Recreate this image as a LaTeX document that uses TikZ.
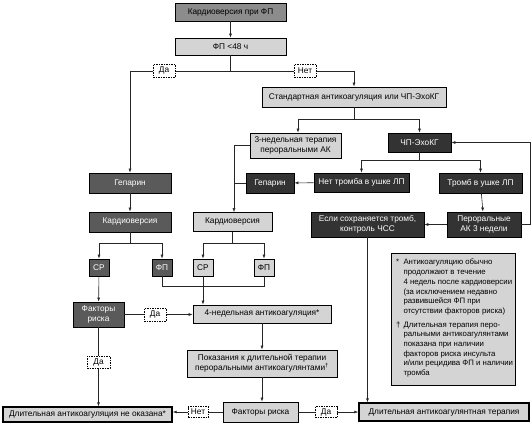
\documentclass[tikz,border=0pt]{standalone}
\usepackage{fontspec}
\setmainfont{Liberation Sans}
\usetikzlibrary{arrows.meta}
\definecolor{midg}{HTML}{8C8C8C}
\definecolor{lightg}{HTML}{D4D4D4}
\definecolor{darkg}{HTML}{5A5A5A}
\definecolor{darkerg}{HTML}{333333}
\tikzset{
 box/.style={draw=black, line width=0.8pt, inner sep=1pt, align=center, font=\fontsize{8.3}{9.6}\selectfont},
 lightbox/.style={box, fill=lightg, text=black},
 midbox/.style={box, fill=midg, text=black},
 darkbox/.style={box, fill=darkg, text=white},
 blackbox/.style={box, fill=darkerg, text=white},
 finalbox/.style={lightbox, line width=1.4pt},
 lbl/.style={draw=black, dash pattern=on 1.5pt off 1pt, fill=white, line width=0.6pt, inner sep=1pt, font=\fontsize{8.3}{9}\selectfont},
 conn/.style={line width=0.6pt, draw=black!85},
 arr/.style={conn, -{Latex[length=4pt,width=3pt]}},
 sz/.style n args={2}{minimum width=#1pt, minimum height=#2pt},
}
\begin{document}
\begin{tikzpicture}[x=1pt,y=-1pt]
\useasboundingbox (0,0) rectangle (531,424);
% boxes
\node[midbox, sz={111}{18}] (n1) at (230.5,12) {Кардиоверсия при ФП};
\node[lightbox, sz={111}{17}] (n2) at (230.5,46.5) {ФП <48 ч};
\node[lightbox, sz={184}{20}] (n3) at (354,97) {Стандартная антикоагуляция или ЧП-ЭхоКГ};
\node[lightbox, sz={91}{25}] (n4) at (295.5,145.5) {3-недельная терапия\\пероральными АК};
\node[blackbox, sz={63}{19}] (n5) at (419.5,142.5) {ЧП-ЭхоКГ};
\node[darkbox, sz={82}{20}] (hep1) at (130,183) {Гепарин};
\node[blackbox, sz={48}{20}] (hep2) at (270,183) {Гепарин};
\node[blackbox, sz={95}{19}] (net) at (361.5,182.5) {Нет тромба в ушке ЛП};
\node[blackbox, sz={83}{20}] (tromb) at (480.5,183) {Тромб в ушке ЛП};
\node[darkbox, sz={82}{20}] (kv1) at (130,222) {Кардиоверсия};
\node[lightbox, sz={79}{19}] (kv2) at (232.5,222) {Кардиоверсия};
\node[blackbox, sz={113}{25}] (esli) at (367.5,224.5) {Если сохраняется тромб,\\контроль ЧСС};
\node[blackbox, sz={74}{25}] (peroral) at (484,224.5) {Пероральные\\АК 3 недели};
\node[darkbox, sz={20}{17}] (sr1) at (99,267.5) {СР};
\node[darkbox, sz={20}{17}] (fp1) at (162,267.5) {ФП};
\node[lightbox, sz={20}{17}] (sr2) at (203,267.5) {СР};
\node[lightbox, sz={20}{17}] (fp2) at (264,267.5) {ФП};
\node[darkbox, sz={51}{25}] (fr1) at (98.5,314.5) {Факторы\\риска};
\node[lightbox, sz={138}{18}] (w4) at (262,314) {4-недельная антикоагуляция*};
\node[lightbox, sz={150}{27}] (pok) at (262,363.5) {Показания к длительной терапии\\пероральными антикоагулянтами\textsuperscript{†}};
\node[finalbox, sz={169}{15}] (dno) at (87.5,414.5) {Длительная антикоагуляция не оказана*};
\node[lightbox, sz={75}{20}] (fr2) at (260.5,412) {Факторы риска};
\node[finalbox, sz={170}{18}] (dat) at (444,412) {Длительная антикоагулянтная терапия};
\node[lightbox, sz={124}{132}] (note) at (453,319) {};
\node[anchor=north west, inner sep=0pt, font=\fontsize{7.8}{9.7}\selectfont] (notetext) at (396,258) {%
\begin{tabular}{@{}l@{\hspace{3pt}}l@{}}
* & Антикоагуляцию обычно\\
 & продолжают в течение\\
 & 4 недель после кардиоверсии\\
 & (за исключением недавно\\
 & развившейся ФП при\\
 & отсутствии факторов риска)\\[4pt]
† & Длительная терапия перо-\\
 & ральными антикоагулянтами\\
 & показана при наличии\\
 & факторов риска инсульта\\
 & и/или рецидива ФП и наличии\\
 & тромба
\end{tabular}};
% connectors
\coordinate (kvtop) at ([xshift=1.5pt]kv2.north);
\coordinate (n4top) at ([xshift=2.5pt]n4.north);
\draw[arr] (n1) -- (n2);
\draw[conn] (n2.south) -- ++(0,16) coordinate (s1);
\draw[arr] (s1) -| (hep1.north);
\draw[arr] (s1) -| (n3.north);
\draw[conn] (n3.south) -- ++(0,12) coordinate (s2);
\draw[arr] (s2) -| (n4top);
\draw[arr] (s2) -| (n5.north);
\draw[conn] (n5.south) -- ++(0,8) coordinate (s3);
\draw[arr] (s3) -| (net.north);
\draw[arr] (s3) -| (tromb.north);
\draw[arr] (net) -- (hep2);
\draw[arr] (tromb) -- (peroral);
\draw[arr] (peroral) -- (esli);
\draw[arr] (peroral.east) -- ++(9,0) |- (n5.east);
\draw[arr] (n4.west) -| (kvtop);
\draw[conn] (hep2.west) -- (hep2.west -| kvtop);
\draw[arr] (hep1) -- (kv1);
\draw[conn] (kv1.south) -- ++(0,11) coordinate (s4);
\draw[arr] (s4) -| (sr1.north);
\draw[arr] (s4) -| (fp1.north);
\draw[conn] (kv2.south) -- ++(0,11.5) coordinate (s5);
\draw[arr] (s5) -| (sr2.north);
\draw[arr] (s5) -| (fp2.north);
\draw[conn] (fp1.south) -- ++(0,10) -| (fp2.south);
\draw[arr] (sr2.south) -- (sr2.south |- w4.north);
\draw[arr] (sr1) -- (fr1);
\draw[arr] (fr1.east) -- (fr1.east -| w4.west);
\draw[arr] (w4) -- (pok);
\draw[arr] (pok.south) -- (pok.south |- fr2.north);
\draw[arr] (fr1.south) -- (fr1.south |- dno.north);
\draw[arr] (fr2.west) -- (fr2.west -| dno.east);
\draw[arr] (fr2.east) -- (fr2.east -| dat.west);
\draw[arr] (esli.south) -- (esli.south |- dat.north);
% labels
\node[lbl, sz={22}{13}] (da1) at (164,70.5) {Да};
\node[lbl, sz={22}{13}] (net1) at (305,70.5) {Нет};
\node[lbl, sz={22}{13}] (da2) at (155,314.5) {Да};
\node[lbl, sz={23}{12}] (da3) at (98.5,362) {Да};
\node[lbl, sz={20}{11}] (net2) at (198,412) {Нет};
\node[lbl, sz={22}{11}] (da4) at (326,412) {Да};
\end{tikzpicture}
\end{document}
